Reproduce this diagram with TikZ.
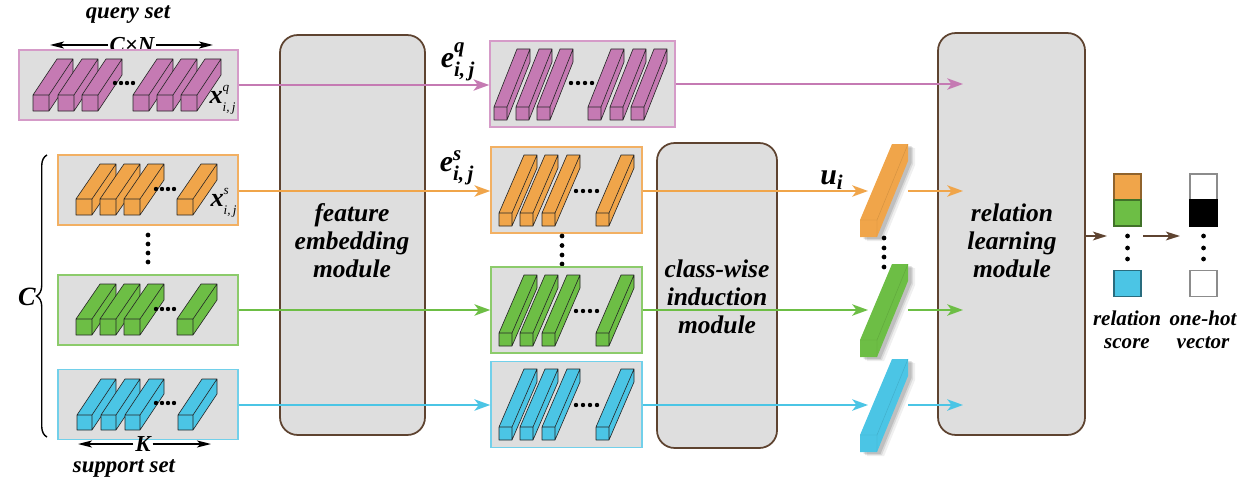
\documentclass[tikz,border=0pt]{standalone}
\usepackage{amsmath}
\usepackage{fontspec}
\setmainfont{Liberation Serif}
\usetikzlibrary{arrows.meta,decorations.pathreplacing}

\definecolor{qpink}{HTML}{C57AB3}
\definecolor{qpinkb}{HTML}{D59BC8}
\definecolor{sorange}{HTML}{F0A54A}
\definecolor{sorangeb}{HTML}{F2B063}
\definecolor{sgreen}{HTML}{6DBE45}
\definecolor{sgreenb}{HTML}{8CCB6B}
\definecolor{sblue}{HTML}{4BC5E5}
\definecolor{sblueb}{HTML}{72D0EA}
\definecolor{panel}{HTML}{DEDEDE}
\definecolor{modline}{HTML}{5E4330}

% a small box seen in perspective: x, bottom y, front size, depth dx, depth dy, colour
\newcommand{\cuboid}[6]{%
  \filldraw[fill=#6, draw=black!85, line width=0.35pt, line join=round]
    ({#1+#3},{#2}) -- ({#1+#3+#4},{#2-#5}) -- ({#1+#3+#4},{#2-#5-#3}) -- ({#1+#3},{#2-#3}) -- cycle
    (#1,{#2-#3}) -- ({#1+#3},{#2-#3}) -- ({#1+#3+#4},{#2-#3-#5}) -- ({#1+#4},{#2-#3-#5}) -- cycle
    (#1,#2) rectangle ({#1+#3},{#2-#3});}

% class vector bar with soft shadow: colour, bottom y
\newcommand{\classbar}[2]{%
  \foreach \o/\a in {7/0.06,5/0.09,3.5/0.12}{%
    \fill[black, opacity=\a]
      ({860+\o},{#2+\o*0.6}) -- ({877+\o},{#2+\o*0.6}) -- ({908+\o},{#2-76+\o*0.6})
      -- ({908+\o},{#2-93+\o*0.6}) -- ({892+\o},{#2-93+\o*0.6}) -- ({860+\o},{#2-17+\o*0.6}) -- cycle;}
  \fill[#1] (860,#2) -- (877,#2) -- (908,{#2-76}) -- (908,{#2-93}) -- (892,{#2-93}) -- (860,{#2-17}) -- cycle;
  \draw[#1!80!black, line width=0.25pt, opacity=0.6]
    (860,{#2-17}) -- (877,{#2-17}) -- (877,#2)
    (877,{#2-17}) -- (908,{#2-93});}

\newcommand{\dotcol}[2]{\foreach \yy in {#2}{\fill (#1,\yy) circle (1.35pt);}}
\newcommand{\dotrow}[2]{\foreach \xx in {#1}{\fill (\xx,#2) circle (1.25pt);}}

% bold italic symbol with upper and lower index
\newcommand{\featsym}[3]{\textbf{\textit{#1}}$^{\text{\bfseries\itshape #2}}_{\text{\bfseries\itshape #3}}$}
\newcommand{\inputsym}[3]{\textbf{\textit{#1}}$^{\raisebox{1.5pt}{$\scriptscriptstyle\text{\mdseries\itshape #2}$}}_{\raisebox{-1pt}{$\scriptscriptstyle\text{\mdseries\itshape #3}$}}$}

\begin{document}
\begin{tikzpicture}[x=0.02cm, y=-0.02cm,
  lab/.style={font=\fontsize{13}{15}\selectfont\bfseries\itshape, inner sep=1pt},
  modtext/.style={font=\fontsize{14.5}{16}\selectfont\bfseries\itshape, align=center},
  small/.style={font=\fontsize{12}{13}\selectfont\bfseries\itshape, align=center},
  module/.style={draw=modline, fill=panel, line width=1pt, rounded corners=10pt, inner sep=0pt},
  setbox/.style={draw=#1, fill=panel, line width=0.9pt, inner sep=0pt},
  flow/.style={line width=1.1pt, -{Stealth[length=9pt, width=6.5pt, inset=2.5pt]}},
  dimarrow/.style={line width=0.9pt, -{Stealth[length=8pt, width=4pt, inset=2pt]}},
  outarrow/.style={draw=modline, line width=1.1pt, -{Stealth[length=8pt, width=5pt, inset=2pt]}},
  cell/.style={minimum width=0.54cm, minimum height=0.52cm, line width=0.6pt, inner sep=0pt}]

\useasboundingbox (0,0) rectangle (1256,483);

% ---------------- modules ----------------
\node[module, minimum width=2.9cm, minimum height=8cm] (fem) at (352.5,235) {};
\node[modtext] (femtext) at (352,241) {feature\\embedding\\module};
\node[module, minimum width=2.4cm, minimum height=6.1cm] (cim) at (717,295.5) {};
\node[modtext] (cimtext) at (717,297) {class-wise\\induction\\module};
\node[module, minimum width=2.94cm, minimum height=8.04cm] (rlm) at (1011.5,234) {};
\node[modtext] (rlmtext) at (1012,241) {relation\\learning\\module};

% ---------------- query set ----------------
\node[lab] (qset) at (128,15) {query set};
\node[lab] (cn) at (132,45) {C×N};
\coordinate (cnl) at (50,45);
\coordinate (cnr) at (213,45);
\draw[dimarrow] (cn.west) -- (cnl);
\draw[dimarrow] (cn.east) -- (cnr);

\node[setbox=qpinkb, minimum width=4.38cm, minimum height=1.4cm] (qin) at (128.5,85) {};
\foreach \x in {33,58,82}{\cuboid{\x}{111}{16}{24}{36}{qpink}}
\dotrow{115,121,127,133}{83}
\foreach \x in {133,157,181}{\cuboid{\x}{111}{16}{24}{36}{qpink}}
\node[inner sep=0pt, font=\fontsize{15}{15}\selectfont] (xq) at (223,100) {\inputsym{x}{q}{i,\,j}};

% ---------------- support set ----------------
\node[setbox=sorangeb, minimum width=3.6cm, minimum height=1.4cm] (oin) at (148,190) {};
\foreach \x in {76,100,124}{\cuboid{\x}{215}{16}{24}{35}{sorange}}
\dotrow{156,162,168,174}{189}
\cuboid{177}{215}{16}{24}{35}{sorange}
\node[inner sep=0pt, font=\fontsize{15}{15}\selectfont] (xs) at (224,203) {\inputsym{x}{s}{i,\,j}};

\dotcol{148}{235,244,253,262}

\node[setbox=sgreenb, minimum width=3.6cm, minimum height=1.4cm] (gin) at (148,310) {};
\foreach \x in {76,100,124}{\cuboid{\x}{335}{16}{24}{35}{sgreen}}
\dotrow{156,162,168,174}{309}
\cuboid{177}{335}{16}{24}{35}{sgreen}

\node[setbox=sblueb, minimum width=3.6cm, minimum height=1.4cm] (bin) at (148,404.5) {};
\foreach \x in {77,101,125}{\cuboid{\x}{430}{15}{24}{36}{sblue}}
\dotrow{156,162,168,174}{403}
\cuboid{178}{430}{15}{24}{36}{sblue}

\node[lab] (kk) at (143,444) {K};
\coordinate (kl) at (78,444);
\coordinate (kr) at (211,444);
\draw[dimarrow] (kk.west) -- (kl);
\draw[dimarrow] (kk.east) -- (kr);
\node[lab] (sset) at (124,468) {support set};

% brace over the C classes
\coordinate (bb) at (47,437);
\coordinate (bt) at (47,155);
\draw[line width=0.8pt, decorate, decoration={brace, amplitude=6pt}] (bb) -- (bt);
\node[lab, font=\fontsize{15}{15}\selectfont\bfseries\itshape] (cc) at (27,297) {C};

% ---------------- embeddings ----------------
\node[setbox=qpinkb, minimum width=3.7cm, minimum height=1.72cm] (qemb) at (582.5,84) {};
\foreach \x in {494,516,537}{\cuboid{\x}{120}{13}{23}{58}{qpink}}
\dotrow{571,578,585,592}{83}
\foreach \x in {588,610,631}{\cuboid{\x}{120}{13}{23}{58}{qpink}}

\node[setbox=sorangeb, minimum width=3.02cm, minimum height=1.72cm] (oemb) at (566.5,190) {};
\foreach \x in {499,520,542}{\cuboid{\x}{226}{13}{25}{58}{sorange}}
\dotrow{576,583,590,597}{191}
\cuboid{596}{226}{13}{25}{58}{sorange}

\dotcol{562}{236,245.5,255,264}

\node[setbox=sgreenb, minimum width=3.02cm, minimum height=1.72cm] (gemb) at (566.5,310) {};
\foreach \x in {499,520,542}{\cuboid{\x}{346}{13}{25}{58}{sgreen}}
\dotrow{576,583,590,597}{311}
\cuboid{596}{346}{13}{25}{58}{sgreen}

\node[setbox=sblueb, minimum width=3.02cm, minimum height=1.72cm] (bemb) at (566.5,404.5) {};
\foreach \x in {499,520,542}{\cuboid{\x}{440}{13}{25}{58}{sblue}}
\dotrow{576,583,590,597}{405}
\cuboid{596}{440}{13}{25}{58}{sblue}

\node[inner sep=0pt, font=\fontsize{17}{17}\selectfont] (eq) at (458,62) {\featsym{e}{q}{i,\,j}};
\node[inner sep=0pt, font=\fontsize{17}{17}\selectfont] (es) at (457,168) {\featsym{e}{s}{i,\,j}};

% ---------------- class vectors ----------------
\classbar{sorange}{237}
\dotcol{884}{238,248,257,267}
\classbar{sgreen}{357}
\classbar{sblue}{452}
\node[inner sep=0pt, font=\fontsize{17}{17}\selectfont] (ui) at (832,180) {\textbf{\textit{u}}$_{\text{\bfseries\itshape i}}$};

\coordinate (uoin) at (868,191);
\coordinate (uoout) at (908,191);
\coordinate (ugin) at (868,310);
\coordinate (ugout) at (908,310);
\coordinate (ubin) at (868,405);
\coordinate (ubout) at (908,405);
\coordinate (rq) at (963,84);
\coordinate (ro) at (963,191);
\coordinate (rg) at (963,310);
\coordinate (rb) at (963,405);

% ---------------- flows ----------------
\draw[flow, qpink] (qin.east) -- (qin.east -| qemb.west);
\draw[flow, qpink] (qemb.east) -- (qemb.east -| rq);
\draw[flow, sorange] (oin.east |- uoin) -- (oemb.west |- uoin);
\draw[flow, sorange] (oemb.east |- uoin) -- (uoin);
\draw[flow, sorange] (uoout) -- (ro);
\draw[flow, sgreen] (gin.east) -- (gemb.west);
\draw[flow, sgreen] (gemb.east) -- (ugin);
\draw[flow, sgreen] (ugout) -- (rg);
\draw[flow, sblue] (bin.east |- ubin) -- (bemb.west |- ubin);
\draw[flow, sblue] (bemb.east |- ubin) -- (ubin);
\draw[flow, sblue] (ubout) -- (rb);

% ---------------- relation score and one-hot vector ----------------
\node[cell, fill=sorange, draw=sorange!60!black] (s1) at (1127.5,187) {};
\node[cell, fill=sgreen, draw=sgreen!60!black] (s2) at (1127.5,213) {};
\dotcol{1127.5}{236,248,259}
\node[cell, fill=sblue, draw=sblue!55!black] (s3) at (1127.5,283.5) {};
\node[cell, fill=white, draw=black!45] (h1) at (1203.5,187) {};
\node[cell, fill=black, draw=black] (h2) at (1203.5,213) {};
\dotcol{1203.5}{236,248,259}
\node[cell, fill=white, draw=black!45] (h3) at (1203.5,283.5) {};

\coordinate (sa) at (1107,236);
\coordinate (sb) at (1143,236);
\coordinate (sc) at (1180,236);
\draw[outarrow] (rlm.east |- sa) -- (sa);
\draw[outarrow] (sb) -- (sc);

\node[small] (rs) at (1127,330) {relation\\score};
\node[small] (ohv) at (1203,330) {one-hot\\vector};

\end{tikzpicture}
\end{document}
